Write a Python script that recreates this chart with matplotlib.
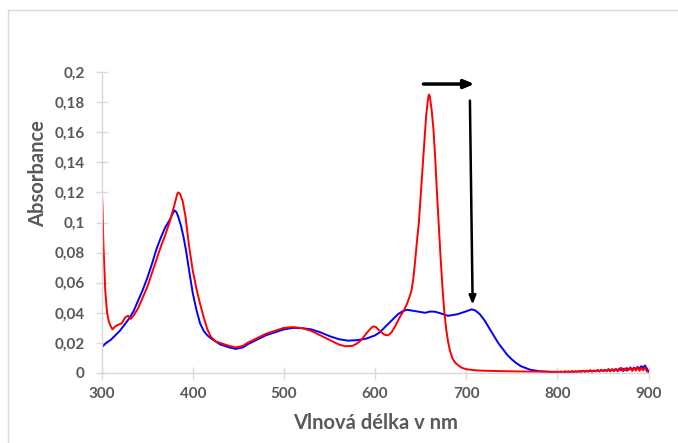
import matplotlib
matplotlib.use("Agg")
import matplotlib.pyplot as plt
from matplotlib.patches import Rectangle
import numpy as np

# ---------------- data ----------------
red_wl = [300, 301, 302, 304, 306, 308, 310, 312, 315, 318, 322, 326, 329, 332, 335,
          340, 345, 350, 355, 360, 365, 370, 375, 380, 383, 384, 386, 389, 392, 396,
          400, 404, 408, 412, 416, 420, 425, 430, 435, 440, 447, 455, 460, 470, 480,
          490, 500, 510, 520, 530, 540, 550, 560, 567, 575, 580, 585, 590, 595, 598,
          601, 605, 610, 614, 618, 622, 627, 631, 635, 638, 640, 642, 644, 646, 648,
          650, 652, 654, 656, 658, 659, 660, 662, 664, 666, 668, 670, 672, 674, 676,
          678, 680, 682, 685, 688, 691, 695, 700, 710, 720, 740, 760, 780, 800]
red_abs = [0.124, 0.110, 0.085, 0.055, 0.040, 0.034, 0.031, 0.029, 0.031, 0.032, 0.033,
           0.037, 0.038, 0.036, 0.038, 0.043, 0.050, 0.057, 0.066, 0.075, 0.084, 0.092,
           0.101, 0.112, 0.119, 0.120, 0.119, 0.114, 0.104, 0.084, 0.068, 0.056, 0.046,
           0.037, 0.029, 0.024, 0.021, 0.020, 0.019, 0.018, 0.017, 0.018, 0.020, 0.023,
           0.026, 0.028, 0.030, 0.0305, 0.0298, 0.028, 0.025, 0.022, 0.019, 0.0178,
           0.018, 0.0195, 0.022, 0.026, 0.0295, 0.031, 0.0305, 0.028, 0.0255, 0.025,
           0.027, 0.031, 0.037, 0.041, 0.046, 0.051, 0.055, 0.063, 0.075, 0.088, 0.100,
           0.118, 0.137, 0.155, 0.171, 0.182, 0.185, 0.184, 0.175, 0.162, 0.142, 0.118,
           0.096, 0.075, 0.056, 0.040, 0.029, 0.021, 0.015, 0.0095, 0.0068, 0.0052,
           0.0035, 0.0025, 0.0018, 0.0015, 0.0012, 0.0010, 0.0009, 0.0008]

blue_wl = [300, 305, 310, 315, 320, 325, 330, 335, 340, 345, 350, 355, 360, 365, 370,
           375, 378, 380, 382, 384, 387, 390, 393, 396, 400, 404, 408, 412, 416, 420,
           425, 430, 435, 440, 447, 455, 460, 470, 480, 490, 500, 510, 520, 530, 540,
           550, 560, 570, 580, 590, 600, 605, 610, 615, 620, 625, 630, 635, 640, 645,
           650, 655, 660, 665, 670, 675, 680, 685, 690, 695, 700, 706, 710, 715, 720,
           725, 730, 735, 740, 745, 750, 755, 760, 770, 780, 790, 800]
blue_abs = [0.017, 0.020, 0.022, 0.025, 0.028, 0.032, 0.036, 0.041, 0.048, 0.055, 0.063,
            0.072, 0.082, 0.090, 0.097, 0.102, 0.106, 0.108, 0.107, 0.104, 0.098, 0.090,
            0.080, 0.068, 0.053, 0.042, 0.033, 0.028, 0.025, 0.023, 0.021, 0.019, 0.018,
            0.017, 0.016, 0.017, 0.019, 0.022, 0.025, 0.027, 0.029, 0.030, 0.0298, 0.029,
            0.027, 0.0245, 0.0225, 0.0215, 0.0218, 0.0228, 0.025, 0.027, 0.030, 0.033,
            0.036, 0.039, 0.041, 0.042, 0.0415, 0.041, 0.0405, 0.040, 0.0408, 0.0408,
            0.040, 0.039, 0.038, 0.0385, 0.039, 0.040, 0.041, 0.0423, 0.0415, 0.039,
            0.035, 0.030, 0.025, 0.020, 0.016, 0.012, 0.009, 0.0065, 0.0045, 0.0022,
            0.0012, 0.0008, 0.0005]

# noisy tail 802..900 nm (2 nm steps)
tail_wl = list(range(802, 901, 2))
red_tail = [0.0006, 0.0010, 0.0005, 0.0012, 0.0007, 0.0011, 0.0006, 0.0013, 0.0008, 0.0012,
            0.0007, 0.0014, 0.0009, 0.0015, 0.0008, 0.0016, 0.0010, 0.0018, 0.0009, 0.0017,
            0.0011, 0.0020, 0.0010, 0.0022, 0.0012, 0.0019, 0.0011, 0.0026, 0.0010, 0.0024,
            0.0012, 0.0028, 0.0011, 0.0022, 0.0035, 0.0012, 0.0030, 0.0014, 0.0026, 0.0038,
            0.0013, 0.0032, 0.0016, 0.0040, 0.0015, 0.0034, 0.0018, 0.0038, 0.0012, 0.0006]
blue_tail = [0.0004, 0.0006, 0.0003, 0.0008, 0.0005, 0.0009, 0.0004, 0.0010, 0.0006, 0.0011,
             0.0007, 0.0012, 0.0008, 0.0014, 0.0009, 0.0013, 0.0010, 0.0016, 0.0011, 0.0015,
             0.0012, 0.0018, 0.0011, 0.0020, 0.0013, 0.0021, 0.0014, 0.0024, 0.0013, 0.0025,
             0.0015, 0.0027, 0.0016, 0.0030, 0.0018, 0.0028, 0.0019, 0.0033, 0.0020, 0.0032,
             0.0022, 0.0036, 0.0025, 0.0040, 0.0028, 0.0045, 0.0035, 0.0050, 0.0030, 0.0008]

x_ticks = [300, 400, 500, 600, 700, 800, 900]
y_ticks = [0, 0.02, 0.04, 0.06, 0.08, 0.10, 0.12, 0.14, 0.16, 0.18, 0.20]
y_tick_labels = ["0", "0,02", "0,04", "0,06", "0,08", "0,1", "0,12", "0,14", "0,16", "0,18", "0,2"]

# ---------------- figure ----------------
plt.rcParams['font.family'] = ['Lato', 'DejaVu Sans']
fig = plt.figure(figsize=(6.78, 4.43), dpi=100)
fig.patch.set_facecolor('white')
fig.patches.append(Rectangle((8 / 678, -0.01), 1.0, 1 - 10 / 443 + 0.01,
                             transform=fig.transFigure, fill=False,
                             edgecolor='#d9d9d9', linewidth=1.0))

ax = fig.add_axes([101.6 / 678, 1 - 373 / 443, 547 / 678, 301 / 443])

ax.plot(blue_wl + tail_wl, blue_abs + blue_tail, color='#0000ff', lw=1.4)
ax.plot(red_wl + tail_wl, red_abs + red_tail, color='#ff0000', lw=1.4)

ax.set_xlim(300, 900)
ax.set_ylim(0, 0.2)
ax.set_xticks(x_ticks)
ax.set_xticklabels([str(t) for t in x_ticks])
ax.set_yticks(y_ticks)
ax.set_yticklabels(y_tick_labels)

for s in ['top', 'right']:
    ax.spines[s].set_visible(False)
for s in ['left', 'bottom']:
    ax.spines[s].set_color('#d9d9d9')
    ax.spines[s].set_linewidth(1.0)

ax.tick_params(axis='both', colors='#d9d9d9', labelcolor='#595959', labelsize=11,
               direction='inout', length=8, width=1.0)
ax.tick_params(axis='y', pad=8)
ax.tick_params(axis='x', pad=6)
for lab in ax.get_xticklabels() + ax.get_yticklabels():
    lab.set_fontweight('bold')

ax.set_xlabel('Vlnová délka v nm', fontsize=14.5, fontweight='bold', color='#595959')
ax.xaxis.set_label_coords(0.5007, -0.134)
ax.set_ylabel('Absorbance', fontsize=14.5, fontweight='bold', color='#595959')
ax.yaxis.set_label_coords(-0.098, 0.664)

# arrows
ax.annotate('', xy=(709, 0.192), xytext=(653, 0.192),
            arrowprops=dict(arrowstyle='-|>,head_length=0.6,head_width=0.25',
                            color='black', lw=2.5, shrinkA=0, shrinkB=0))
ax.annotate('', xy=(707, 0.0455), xytext=(704, 0.181),
            arrowprops=dict(arrowstyle='-|>,head_length=0.5,head_width=0.2',
                            color='black', lw=1.8, shrinkA=0, shrinkB=0))

fig.savefig('out.png', dpi=100, facecolor='white')
